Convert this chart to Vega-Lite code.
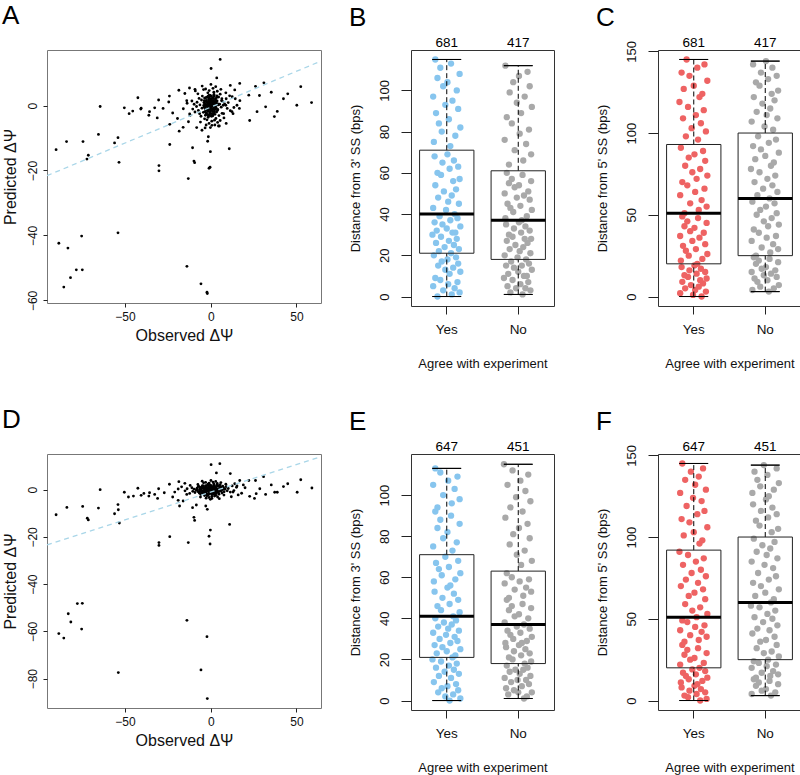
{
"$schema":"https://vega.github.io/schema/vega-lite/v6.json",
"padding":{"left":1,"top":2,"right":0,"bottom":0},
"config":{"font":"Liberation Sans","axis":{"domain":false,"grid":false,"tickColor":"#222","labelColor":"#111","titleColor":"#111","titleFontWeight":"normal"},"title":{"fontSize":26,"fontWeight":"normal","anchor":"start","frame":"bounds","baseline":"alphabetic","color":"#000"}},
"datasets":{
"A":[{"x":5.5,"y":14.2},{"x":0.2,"y":11.4},{"x":3.5,"y":8.5},{"x":-64.5,"y":-0.3},{"x":-42.5,"y":2.4},{"x":-50.4,"y":-0.7},{"x":-47.6,"y":-2.5},{"x":-40.8,"y":-1.1},{"x":-65.5,"y":-8.9},{"x":-84.1,"y":-11.1},{"x":-74.5,"y":-11.1},{"x":-90.2,"y":-13.6},{"x":-54.1,"y":-9.9},{"x":-56.1,"y":-11.5},{"x":-71.4,"y":-15.3},{"x":-72.2,"y":-16.5},{"x":-53.5,"y":-17.5},{"x":-30.2,"y":-18.5},{"x":-30.2,"y":-20.1},{"x":-23.9,"y":-12},{"x":-13.1,"y":-22.5},{"x":-10.6,"y":-13},{"x":-9.8,"y":-17.1},{"x":-9.4,"y":-17.6},{"x":-1,"y":-19.3},{"x":-0.4,"y":-19},{"x":-1.8,"y":-11},{"x":-1.4,"y":-9.6},{"x":-0.2,"y":-14.2},{"x":10.8,"y":-13.3},{"x":-54.1,"y":-39.2},{"x":-75.3,"y":-40.2},{"x":-88.6,"y":-42.4},{"x":-83.3,"y":-43.9},{"x":-78.4,"y":-50.6},{"x":-74.9,"y":-50.6},{"x":-81.8,"y":-53},{"x":-85.7,"y":-55.9},{"x":-13.9,"y":-49.5},{"x":-5.7,"y":-54.9},{"x":-2.2,"y":-57.5},{"x":-2,"y":-57.9},
{"x":16.9,"y":6.8},{"x":31,"y":7},{"x":26.1,"y":5.9},{"x":35.3,"y":4.1},{"x":44.9,"y":3.6},{"x":52.5,"y":5.8},{"x":42.4,"y":2.1},{"x":50.2,"y":0.1},{"x":58.8,"y":0.9},{"x":37.1,"y":-3.4},{"x":38.8,"y":-1.8},{"x":32,"y":-0.4},{"x":27,"y":-1.9},{"x":22.7,"y":-4.6},{"x":22.2,"y":3.2},{"x":28.4,"y":3.1},{"x":14.3,"y":2.1},{"x":11.4,"y":6.2},{"x":16.7,"y":-0.9},
{"x":-35.7,"y":-1.9},{"x":-36.1,"y":-3},{"x":-30.4,"y":1.7},{"x":-31.2,"y":-3.8},{"x":-27.8,"y":-0.9},{"x":-24.1,"y":2.9},{"x":-24.5,"y":1.1},{"x":-23.9,"y":-5.8},{"x":-18.4,"y":-7.9},{"x":-18.6,"y":4.7},{"x":-15.1,"y":3.7},{"x":-45.5,"y":-1.7},{"x":-40.6,"y":-0.8},{"x":-32.7,"y":-0.7},{"x":-22.2,"y":-2.3},{"x":-19.4,"y":-4},{"x":-16.1,"y":-6.7},{"x":-12.4,"y":5.4},{"x":-9.2,"y":5},{"x":-8.2,"y":-6.8},{"x":-5.1,"y":-7.6},{"x":-3.3,"y":-6.9},{"x":2.4,"y":-6},{"x":6.5,"y":2.1},{"x":8.8,"y":0.1},{"x":7.5,"y":-2.5},{"x":5.5,"y":-4.6},{"x":4.5,"y":-6.3},{"x":12.4,"y":-1.9},{"x":15.3,"y":0.1},
{"x":-14,"y":1.5},{"x":-12,"y":-3},{"x":13,"y":-2.5},{"x":11,"y":3},{"x":-16,"y":-1},{"x":17,"y":1.5},{"x":9,"y":-5.5},{"x":-9,"y":4.5},{"x":14,"y":4.8},{"x":-13,"y":-5},
{"x":0.5,"y":0.3},{"x":-1.2,"y":1.1},{"x":2.1,"y":-0.8},{"x":-2.5,"y":-1.4},{"x":1.4,"y":2.2},{"x":-0.7,"y":-2.3},{"x":3.2,"y":0.9},{"x":-3.4,"y":0.6},{"x":0.9,"y":-1.6},{"x":-1.8,"y":-0.4},
{"x":2.7,"y":1.8},{"x":-0.3,"y":3.1},{"x":1.1,"y":-3.2},{"x":-2.9,"y":2.4},{"x":4.1,"y":-1.2},{"x":-4.3,"y":-2.1},{"x":0.2,"y":1.7},{"x":-1.5,"y":-3.6},{"x":3.6,"y":3},{"x":-3.8,"y":1.5},
{"x":5.2,"y":0.4},{"x":-5.1,"y":-0.8},{"x":1.8,"y":4.1},{"x":-2.2,"y":-4.4},{"x":4.6,"y":2.6},{"x":-4.9,"y":2.9},{"x":2.4,"y":-2.7},{"x":-0.9,"y":4.6},{"x":0.6,"y":-4.8},{"x":6.1,"y":-0.5},
{"x":-6.3,"y":0.2},{"x":3,"y":-4},{"x":-3.1,"y":-3},{"x":5.5,"y":3.5},{"x":-5.7,"y":-3.3},{"x":7,"y":1.2},{"x":-7.2,"y":-1.5},{"x":1.3,"y":5.3},{"x":-1,"y":-5.5},{"x":6.6,"y":-2.4},
{"x":-6.8,"y":2.2},{"x":8.1,"y":0.5},{"x":-8.3,"y":-0.3},{"x":2.9,"y":5.8},{"x":-2.7,"y":-6},{"x":9,"y":2.1},{"x":-9.2,"y":-2},{"x":4,"y":-5.2},{"x":-4.2,"y":4.9},{"x":7.7,"y":-3.8},
{"x":-7.5,"y":3.6},{"x":10.2,"y":0.9},{"x":-10.5,"y":-1.1},{"x":0.1,"y":6.5},{"x":-0.2,"y":-6.8},{"x":11.4,"y":-1.6},{"x":-11,"y":1.4},{"x":5.9,"y":5},{"x":-6,"y":-5.1},{"x":8.8,"y":3.9},
{"x":0,"y":0},{"x":0.8,"y":-0.2},{"x":-0.6,"y":0.7},{"x":1.6,"y":0.5},{"x":-1.4,"y":-1},{"x":0.4,"y":-0.9},{"x":-0.4,"y":1.8},{"x":2,"y":1.2},{"x":-2.1,"y":0.1},{"x":1.2,"y":-1.9},
{"x":-1.1,"y":2.6},{"x":2.6,"y":-0.1},{"x":-2.6,"y":-2.4},{"x":0.3,"y":2.9},{"x":-0.8,"y":-3},{"x":3.4,"y":-2},{"x":-3.3,"y":-0.7},{"x":1.9,"y":3.4},{"x":-1.7,"y":3.9},{"x":4.4,"y":0.2},
{"x":-4,"y":0.9},{"x":2.2,"y":-4.5},{"x":-3.6,"y":-4.1},{"x":4.8,"y":-3.1},{"x":-5.4,"y":1.7},{"x":6.3,"y":1.5},{"x":-6.5,"y":-2.5},{"x":3.8,"y":4.4},{"x":-3,"y":5.1},{"x":7.3,"y":0.1},
{"x":0.7,"y":-6.1},{"x":-8,"y":1},{"x":9.6,"y":-0.9},{"x":-9.7,"y":0.4},{"x":12.5,"y":2.7},{"x":-12.3,"y":-2.6},{"x":5,"y":-6.3},{"x":-5,"y":6},{"x":13.5,"y":-0.6},{"x":-13.8,"y":0.7},
{"x":0.3,"y":-0.5},{"x":-0.9,"y":0.4},{"x":1.7,"y":0.9},{"x":-1.6,"y":-1.7},{"x":2.3,"y":-1.3},{"x":-2.4,"y":1.1},{"x":0.6,"y":1.3},{"x":-0.2,"y":-1.4},{"x":1,"y":2.4},{"x":-1.3,"y":2},
{"x":3.1,"y":-0.6},{"x":-3,"y":-1.2},{"x":2.8,"y":2.1},{"x":-2.8,"y":-0.1},{"x":0.1,"y":-2.5},{"x":-0.5,"y":2.2},{"x":1.5,"y":-2.6},{"x":-1.9,"y":-2.8},{"x":3.7,"y":1.4},{"x":-3.6,"y":2.3},
{"x":0.9,"y":0.4},{"x":-1,"y":-0.6},{"x":1.9,"y":-0.4},{"x":-2,"y":0.8},{"x":0.5,"y":1},{"x":-0.6,"y":-1.1},{"x":2.5,"y":0.6},{"x":-2.3,"y":-1},{"x":1.3,"y":-1.2},{"x":-1.2,"y":1.5},
{"x":3.3,"y":0.3},{"x":-3.2,"y":0.1},{"x":0.2,"y":2},{"x":-0.3,"y":-2},{"x":2,"y":2.8},{"x":-1.5,"y":2.9},{"x":1.1,"y":-2.9},{"x":-2.5,"y":-2.2},{"x":3.9,"y":-1.5},{"x":-3.9,"y":-0.5},
{"x":0.7,"y":0.1},{"x":-0.8,"y":0.1},{"x":1.4,"y":1.6},{"x":-1.7,"y":-1.3},{"x":2.2,"y":-2},{"x":-2.6,"y":1.6},{"x":0,"y":1.2},{"x":0,"y":-1},{"x":2.9,"y":-1},{"x":-3,"y":1.3},
{"x":4.2,"y":0.5},{"x":-4.1,"y":0},{"x":1.8,"y":3.1},{"x":-0.9,"y":3.2},{"x":0.4,"y":-3.3},{"x":-1.1,"y":-3.1},{"x":2.6,"y":1.2},{"x":-2.2,"y":2.6},{"x":3.5,"y":2.5},{"x":-3.4,"y":-1.9}],
"D":[{"x":0.2,"y":10.6},{"x":5.3,"y":11},{"x":3.3,"y":7.1},{"x":11.4,"y":6.8},{"x":-64.5,"y":0},{"x":-90.2,"y":-10.6},{"x":-83.9,"y":-7.5},{"x":-74.7,"y":-7.1},{"x":-65.5,"y":-7.8},{"x":-72,"y":-12.1},{"x":-71.4,"y":-12.8},{"x":-56.1,"y":-10.2},{"x":-54.1,"y":-6.3},{"x":-53.9,"y":-8.5},{"x":-53.3,"y":-14.1},{"x":-50.4,"y":-1.1},{"x":-48,"y":-3.1},{"x":-42.5,"y":0.6},{"x":-40.6,"y":-2.4},{"x":-45.1,"y":-2.7},{"x":-36.1,"y":-2.7},{"x":-30.4,"y":0.4},{"x":-31,"y":-3.7},{"x":-30.2,"y":-22.4},{"x":-30.2,"y":-23.6},{"x":-23.9,"y":-19.9},{"x":-13.1,"y":-22.4},{"x":-9.8,"y":-11.7},{"x":-9.4,"y":-13},{"x":-0.2,"y":-17.1},{"x":-1,"y":-19.7},{"x":-0.4,"y":-23},{"x":11,"y":-14.7},{"x":-77.8,"y":-48.2},{"x":-74.9,"y":-48.1},{"x":-83.1,"y":-52.5},{"x":-81.6,"y":-56},{"x":-75.3,"y":-59},{"x":-88.6,"y":-60.9},{"x":-85.7,"y":-62.8},{"x":-13.9,"y":-55.3},{"x":-2.2,"y":-62.2},{"x":-53.9,"y":-77.4},{"x":-5.7,"y":-76.3},{"x":-2,"y":-88.4},
{"x":30.8,"y":5.5},{"x":26.1,"y":3.9},{"x":35.3,"y":2},{"x":44.9,"y":2.5},{"x":52.5,"y":4.2},{"x":42.4,"y":1.3},{"x":50.4,"y":-1.1},{"x":59,"y":0.7},{"x":37.3,"y":-1.1},{"x":38.8,"y":-1.1},{"x":32,"y":-2},{"x":25.5,"y":-3.7},{"x":22.7,"y":-2.8},{"x":22.2,"y":3.9},{"x":28.6,"y":0.4},{"x":16.9,"y":3.9},{"x":26.5,"y":-1.7},{"x":15.3,"y":1.6},
{"x":-35.7,"y":-1.3},{"x":-24.1,"y":2.3},{"x":-27.1,"y":-1.3},{"x":-18.6,"y":3.4},{"x":-15.1,"y":2.7},{"x":-18.2,"y":-6.9},{"x":-22.2,"y":-3.1},{"x":-19,"y":-4.5},{"x":-16.1,"y":-4.8},{"x":-8.4,"y":-6.5},{"x":-10.6,"y":-7.6},{"x":-2,"y":-8.3},{"x":-2.9,"y":-6.9},{"x":-32.7,"y":-2},{"x":-39,"y":-1.6},
{"x":15,"y":1},{"x":18,"y":-1.5},{"x":-15,"y":-0.5},{"x":-17,"y":1.2},{"x":14,"y":2.5},{"x":-14,"y":-2},{"x":20,"y":0.8},{"x":16,"y":-2.2},{"x":-19,"y":0.3},{"x":12,"y":-3},{"x":19,"y":2},{"x":-21,"y":-1},{"x":13,"y":-1},{"x":-12,"y":1.8},
{"x":0.5,"y":0.2},{"x":-1.2,"y":0.7},{"x":2.1,"y":-0.5},{"x":-2.5,"y":-0.8},{"x":1.4,"y":1.3},{"x":-0.7,"y":-1.4},{"x":3.2,"y":0.5},{"x":-3.4,"y":0.4},{"x":0.9,"y":-1},{"x":-1.8,"y":-0.2},
{"x":2.7,"y":1.1},{"x":-0.3,"y":1.9},{"x":1.1,"y":-1.9},{"x":-2.9,"y":1.4},{"x":4.1,"y":-0.7},{"x":-4.3,"y":-1.3},{"x":0.2,"y":1},{"x":-1.5,"y":-2.2},{"x":3.6,"y":1.8},{"x":-3.8,"y":0.9},
{"x":5.2,"y":0.2},{"x":-5.1,"y":-0.5},{"x":1.8,"y":2.5},{"x":-2.2,"y":-2.6},{"x":4.6,"y":1.6},{"x":-4.9,"y":1.7},{"x":2.4,"y":-1.6},{"x":-0.9,"y":2.8},{"x":0.6,"y":-2.9},{"x":6.1,"y":-0.3},
{"x":-6.3,"y":0.1},{"x":3,"y":-2.4},{"x":-3.1,"y":-1.8},{"x":5.5,"y":2.1},{"x":-5.7,"y":-2},{"x":7,"y":0.7},{"x":-7.2,"y":-0.9},{"x":1.3,"y":3.2},{"x":-1,"y":-3.3},{"x":6.6,"y":-1.4},
{"x":-6.8,"y":1.3},{"x":8.1,"y":0.3},{"x":-8.3,"y":-0.2},{"x":2.9,"y":3.5},{"x":-2.7,"y":-3.6},{"x":9,"y":1.3},{"x":-9.2,"y":-1.2},{"x":4,"y":-3.1},{"x":-4.2,"y":2.9},{"x":7.7,"y":-2.3},
{"x":-7.5,"y":2.2},{"x":10.2,"y":0.5},{"x":-10.5,"y":-0.7},{"x":0.1,"y":3.9},{"x":-0.2,"y":-4.1},{"x":11.4,"y":-1},{"x":-11,"y":0.8},{"x":5.9,"y":3},{"x":-6,"y":-3.1},{"x":8.8,"y":2.3},
{"x":0,"y":0},{"x":0.8,"y":-0.1},{"x":-0.6,"y":0.4},{"x":1.6,"y":0.3},{"x":-1.4,"y":-0.6},{"x":0.4,"y":-0.5},{"x":-0.4,"y":1.1},{"x":2,"y":0.7},{"x":-2.1,"y":0.1},{"x":1.2,"y":-1.1},
{"x":-1.1,"y":1.6},{"x":2.6,"y":-0.1},{"x":-2.6,"y":-1.4},{"x":0.3,"y":1.7},{"x":-0.8,"y":-1.8},{"x":3.4,"y":-1.2},{"x":-3.3,"y":-0.4},{"x":1.9,"y":2},{"x":-1.7,"y":2.3},{"x":4.4,"y":0.1},
{"x":-4,"y":0.5},{"x":2.2,"y":-2.7},{"x":-3.6,"y":-2.5},{"x":4.8,"y":-1.9},{"x":-5.4,"y":1},{"x":6.3,"y":0.9},{"x":-6.5,"y":-1.5},{"x":3.8,"y":2.6},{"x":-3,"y":3.1},{"x":7.3,"y":0.1},
{"x":0.7,"y":-3.7},{"x":-8,"y":0.6},{"x":9.6,"y":-0.5},{"x":-9.7,"y":0.2},{"x":12.5,"y":1.6},{"x":-12.3,"y":-1.6},{"x":5,"y":-3.8},{"x":-5,"y":3.6},{"x":13.5,"y":-0.4},{"x":-13.8,"y":0.4},
{"x":0.6,"y":-0.3},{"x":-1.8,"y":0.2},{"x":3.4,"y":0.5},{"x":-3.2,"y":-1},{"x":4.6,"y":-0.8},{"x":-4.8,"y":0.7},{"x":1.2,"y":0.8},{"x":-0.4,"y":-0.8},{"x":2,"y":1.4},{"x":-2.6,"y":1.2},
{"x":6.2,"y":-0.4},{"x":-6,"y":-0.7},{"x":5.6,"y":1.3},{"x":-5.6,"y":-0.1},{"x":0.2,"y":-1.5},{"x":-1,"y":1.3},{"x":3,"y":-1.6},{"x":-3.8,"y":-1.7},{"x":7.4,"y":0.8},{"x":-7.2,"y":1.4},
{"x":1.8,"y":0.2},{"x":-2,"y":-0.4},{"x":3.8,"y":-0.2},{"x":-4,"y":0.5},{"x":1,"y":0.6},{"x":-1.2,"y":-0.7},{"x":5,"y":0.4},{"x":-4.6,"y":-0.6},{"x":2.6,"y":-0.7},{"x":-2.4,"y":0.9},
{"x":6.6,"y":0.2},{"x":-6.4,"y":0.1},{"x":0.4,"y":1.2},{"x":-0.6,"y":-1.2},{"x":4,"y":1.7},{"x":-3,"y":1.7},{"x":2.2,"y":-1.7},{"x":-5,"y":-1.3},{"x":7.8,"y":-0.9},{"x":-7.8,"y":-0.3},
{"x":1.4,"y":0.1},{"x":-1.6,"y":0.1},{"x":2.8,"y":1},{"x":-3.4,"y":-0.8},{"x":4.4,"y":-1.2},{"x":-5.2,"y":1},{"x":0,"y":0.7},{"x":0,"y":-0.6},{"x":5.8,"y":-0.6},{"x":-6,"y":0.8},
{"x":8.4,"y":0.3},{"x":-8.2,"y":0},{"x":3.6,"y":1.9},{"x":-1.8,"y":1.9},{"x":0.8,"y":-2},{"x":-2.2,"y":-1.9},{"x":5.2,"y":0.7},{"x":-4.4,"y":1.6},{"x":7,"y":1.5},{"x":-6.8,"y":-1.1}],
"Aline":[{"x":-95.5,"y":-21.6},{"x":64.3,"y":13.7}],
"Dline":[{"x":-95.5,"y":-23.4},{"x":64.3,"y":14.0}],
"Bbox":[{"g":"Yes","lo":0,"q1":21,"med":40,"q3":71,"hi":115,"n":681},{"g":"No","lo":1,"q1":18,"med":37,"q3":61,"hi":112,"n":417}],
"Cbox":[{"g":"Yes","lo":0,"q1":20,"med":51,"q3":93,"hi":145,"n":681},{"g":"No","lo":3,"q1":25,"med":60,"q3":100,"hi":144,"n":417}],
"Ebox":[{"g":"Yes","lo":0,"q1":21,"med":41,"q3":71,"hi":113,"n":647},{"g":"No","lo":1,"q1":18,"med":37,"q3":63,"hi":115,"n":451}],
"Fbox":[{"g":"Yes","lo":0,"q1":20,"med":51,"q3":92,"hi":145,"n":647},{"g":"No","lo":3,"q1":25,"med":60,"q3":100,"hi":144,"n":451}],
"BY":[{"x":0.87,"y":0},{"x":1.07,"y":1},{"x":1.18,"y":2},{"x":0.95,"y":3},{"x":1.11,"y":4},{"x":0.81,"y":5},{"x":1.02,"y":6},{"x":1.15,"y":7},{"x":0.91,"y":8},{"x":0.84,"y":9},{"x":1.04,"y":11},{"x":1.19,"y":12},{"x":0.98,"y":13},{"x":1.09,"y":14},{"x":0.88,"y":15},{"x":1.16,"y":16},{"x":0.93,"y":17},{"x":1.01,"y":18},{"x":1.13,"y":19},{"x":0.82,"y":20},{"x":1.06,"y":21},{"x":0.89,"y":22},{"x":1.17,"y":23},{"x":0.97,"y":24},{"x":1.1,"y":25},{"x":0.85,"y":26},{"x":1.03,"y":27},{"x":1.14,"y":28},{"x":0.92,"y":29},{"x":0.8,"y":30},{"x":1.08,"y":31},{"x":1.12,"y":31},{"x":0.86,"y":32},{"x":1,"y":33},{"x":1.19,"y":34},{"x":0.94,"y":35},{"x":0.83,"y":36},{"x":1.05,"y":37},{"x":1.15,"y":38},{"x":0.9,"y":39},{"x":1.11,"y":40},{"x":0.99,"y":42},{"x":0.81,"y":43},{"x":1.17,"y":45},{"x":1.02,"y":46},{"x":0.88,"y":48},{"x":1.07,"y":49},{"x":0.96,"y":51},{"x":1.13,"y":52},{"x":0.84,"y":54},{"x":1.09,"y":56},{"x":1.18,"y":57},{"x":0.92,"y":59},{"x":0.87,"y":60},{"x":1.04,"y":62},{"x":1.16,"y":63},{"x":0.94,"y":65},{"x":1.1,"y":66},{"x":0.83,"y":68},{"x":1.01,"y":69},{"x":1.05,"y":73},{"x":0.82,"y":75},{"x":1.12,"y":78},{"x":0.93,"y":80},{"x":1.19,"y":82},{"x":0.89,"y":84},{"x":1.03,"y":86},{"x":0.85,"y":89},{"x":1.16,"y":91},{"x":0.98,"y":93},{"x":1.08,"y":95},{"x":0.81,"y":97},{"x":1.14,"y":100},{"x":0.95,"y":102},{"x":1.01,"y":104},{"x":0.87,"y":106},{"x":1.18,"y":108},{"x":0.91,"y":111},{"x":1.06,"y":113},{"x":0.84,"y":115}],
"BN":[{"x":2.06,"y":1},{"x":1.89,"y":2},{"x":2.17,"y":3},{"x":1.97,"y":4},{"x":2.1,"y":4},{"x":1.85,"y":5},{"x":2.03,"y":6},{"x":2.14,"y":7},{"x":1.92,"y":8},{"x":1.8,"y":9},{"x":2.08,"y":10},{"x":2.12,"y":10},{"x":1.86,"y":11},{"x":2,"y":12},{"x":2.19,"y":13},{"x":1.94,"y":14},{"x":1.83,"y":15},{"x":2.05,"y":15},{"x":2.15,"y":16},{"x":1.9,"y":17},{"x":2.11,"y":18},{"x":1.99,"y":19},{"x":1.81,"y":20},{"x":2.17,"y":21},{"x":2.02,"y":22},{"x":1.88,"y":23},{"x":2.07,"y":24},{"x":1.96,"y":25},{"x":2.13,"y":26},{"x":1.84,"y":27},{"x":2.09,"y":28},{"x":2.18,"y":28},{"x":1.92,"y":29},{"x":1.87,"y":30},{"x":2.04,"y":31},{"x":2.16,"y":32},{"x":1.94,"y":33},{"x":2.1,"y":34},{"x":1.83,"y":35},{"x":2.01,"y":36},{"x":2.05,"y":37},{"x":1.82,"y":38},{"x":2.12,"y":39},{"x":1.93,"y":41},{"x":2.19,"y":42},{"x":1.89,"y":43},{"x":2.03,"y":44},{"x":1.85,"y":45},{"x":2.16,"y":47},{"x":1.98,"y":48},{"x":2.08,"y":49},{"x":1.81,"y":50},{"x":2.14,"y":51},{"x":1.95,"y":53},{"x":2.01,"y":54},{"x":1.87,"y":55},{"x":2.18,"y":56},{"x":1.91,"y":57},{"x":2.06,"y":59},{"x":1.84,"y":60},{"x":1.87,"y":64},{"x":2.07,"y":66},{"x":2.18,"y":69},{"x":1.95,"y":71},{"x":2.11,"y":74},{"x":1.81,"y":76},{"x":2.02,"y":79},{"x":2.15,"y":81},{"x":1.91,"y":84},{"x":1.84,"y":87},{"x":2.04,"y":89},{"x":2.19,"y":92},{"x":1.98,"y":94},{"x":2.09,"y":97},{"x":1.88,"y":99},{"x":2.16,"y":102},{"x":1.93,"y":104},{"x":2.01,"y":107},{"x":2.13,"y":109},{"x":1.82,"y":112}],
"CY":[{"x":1.11,"y":0},{"x":0.99,"y":1},{"x":0.81,"y":2},{"x":1.17,"y":3},{"x":1.02,"y":4},{"x":0.88,"y":5},{"x":1.07,"y":6},{"x":0.96,"y":7},{"x":1.13,"y":8},{"x":0.84,"y":9},{"x":1.09,"y":10},{"x":1.18,"y":11},{"x":0.92,"y":12},{"x":0.87,"y":13},{"x":1.04,"y":14},{"x":1.16,"y":15},{"x":0.94,"y":16},{"x":1.1,"y":17},{"x":0.83,"y":18},{"x":1.01,"y":19},{"x":1.05,"y":20},{"x":0.82,"y":22},{"x":1.12,"y":23},{"x":0.93,"y":25},{"x":1.19,"y":26},{"x":0.89,"y":28},{"x":1.03,"y":29},{"x":0.85,"y":31},{"x":1.16,"y":32},{"x":0.98,"y":34},{"x":1.08,"y":36},{"x":0.81,"y":37},{"x":1.14,"y":39},{"x":0.95,"y":40},{"x":1.01,"y":42},{"x":0.87,"y":43},{"x":1.18,"y":45},{"x":0.91,"y":46},{"x":1.06,"y":48},{"x":0.84,"y":49},{"x":0.87,"y":51},{"x":1.07,"y":53},{"x":1.18,"y":55},{"x":0.95,"y":57},{"x":1.11,"y":59},{"x":0.81,"y":62},{"x":1.02,"y":64},{"x":1.15,"y":66},{"x":0.91,"y":68},{"x":0.84,"y":70},{"x":1.04,"y":72},{"x":1.19,"y":74},{"x":0.98,"y":76},{"x":1.09,"y":78},{"x":0.88,"y":80},{"x":1.16,"y":83},{"x":0.93,"y":85},{"x":1.01,"y":87},{"x":1.13,"y":89},{"x":0.82,"y":91},{"x":1.06,"y":96},{"x":0.89,"y":98},{"x":1.17,"y":101},{"x":0.97,"y":103},{"x":1.1,"y":106},{"x":0.85,"y":109},{"x":1.03,"y":111},{"x":1.14,"y":114},{"x":0.92,"y":116},{"x":0.8,"y":119},{"x":1.08,"y":122},{"x":1.12,"y":124},{"x":0.86,"y":127},{"x":1,"y":129},{"x":1.19,"y":132},{"x":0.94,"y":135},{"x":0.83,"y":137},{"x":1.05,"y":140},{"x":1.15,"y":142},{"x":0.9,"y":145}],
"CN":[{"x":2.05,"y":3},{"x":1.82,"y":4},{"x":2.12,"y":5},{"x":1.93,"y":6},{"x":2.19,"y":7},{"x":1.89,"y":9},{"x":2.03,"y":10},{"x":1.85,"y":11},{"x":2.16,"y":12},{"x":1.98,"y":13},{"x":2.08,"y":14},{"x":1.81,"y":15},{"x":2.14,"y":16},{"x":1.95,"y":17},{"x":2.01,"y":18},{"x":1.87,"y":20},{"x":2.18,"y":21},{"x":1.91,"y":22},{"x":2.06,"y":23},{"x":1.84,"y":24},{"x":1.87,"y":25},{"x":2.07,"y":27},{"x":2.18,"y":29},{"x":1.95,"y":30},{"x":2.11,"y":32},{"x":1.81,"y":34},{"x":2.02,"y":36},{"x":2.15,"y":37},{"x":1.91,"y":39},{"x":1.84,"y":41},{"x":2.04,"y":43},{"x":2.19,"y":44},{"x":1.98,"y":46},{"x":2.09,"y":48},{"x":1.88,"y":50},{"x":2.16,"y":51},{"x":1.93,"y":53},{"x":2.01,"y":55},{"x":2.13,"y":57},{"x":1.82,"y":58},{"x":2.06,"y":60},{"x":1.89,"y":62},{"x":2.17,"y":64},{"x":1.97,"y":66},{"x":2.1,"y":68},{"x":1.85,"y":70},{"x":2.03,"y":72},{"x":2.14,"y":74},{"x":1.92,"y":76},{"x":1.8,"y":78},{"x":2.08,"y":80},{"x":2.12,"y":82},{"x":1.86,"y":84},{"x":2,"y":86},{"x":2.19,"y":88},{"x":1.94,"y":90},{"x":1.83,"y":92},{"x":2.05,"y":94},{"x":2.15,"y":96},{"x":1.9,"y":98},{"x":2.11,"y":102},{"x":1.99,"y":104},{"x":1.81,"y":107},{"x":2.17,"y":109},{"x":2.02,"y":111},{"x":1.88,"y":113},{"x":2.07,"y":115},{"x":1.96,"y":118},{"x":2.13,"y":120},{"x":1.84,"y":122},{"x":2.09,"y":124},{"x":2.18,"y":126},{"x":1.92,"y":129},{"x":1.87,"y":131},{"x":2.04,"y":133},{"x":2.16,"y":135},{"x":1.94,"y":137},{"x":2.1,"y":140},{"x":1.83,"y":142},{"x":2.01,"y":144}],
"EY":[{"x":1.04,"y":0},{"x":1.19,"y":1},{"x":0.98,"y":2},{"x":1.09,"y":3},{"x":0.88,"y":4},{"x":1.16,"y":5},{"x":0.93,"y":6},{"x":1.01,"y":7},{"x":1.13,"y":8},{"x":0.82,"y":9},{"x":1.06,"y":11},{"x":0.89,"y":12},{"x":1.17,"y":13},{"x":0.97,"y":14},{"x":1.1,"y":15},{"x":0.85,"y":16},{"x":1.03,"y":17},{"x":1.14,"y":18},{"x":0.92,"y":19},{"x":0.8,"y":20},{"x":1.08,"y":21},{"x":1.12,"y":22},{"x":0.86,"y":23},{"x":1,"y":24},{"x":1.19,"y":25},{"x":0.94,"y":26},{"x":0.83,"y":27},{"x":1.05,"y":28},{"x":1.15,"y":29},{"x":0.9,"y":30},{"x":1.11,"y":31},{"x":0.99,"y":32},{"x":0.81,"y":33},{"x":1.17,"y":34},{"x":1.02,"y":35},{"x":0.88,"y":36},{"x":1.07,"y":37},{"x":0.96,"y":38},{"x":1.13,"y":39},{"x":0.84,"y":40},{"x":1.09,"y":41},{"x":1.18,"y":43},{"x":0.92,"y":44},{"x":0.87,"y":46},{"x":1.04,"y":47},{"x":1.16,"y":49},{"x":0.94,"y":50},{"x":1.1,"y":52},{"x":0.83,"y":53},{"x":1.01,"y":55},{"x":1.05,"y":56},{"x":0.82,"y":58},{"x":1.12,"y":59},{"x":0.93,"y":61},{"x":1.19,"y":62},{"x":0.89,"y":64},{"x":1.03,"y":65},{"x":0.85,"y":67},{"x":1.16,"y":68},{"x":0.98,"y":70},{"x":1.08,"y":73},{"x":0.81,"y":75},{"x":1.14,"y":77},{"x":0.95,"y":79},{"x":1.01,"y":82},{"x":0.87,"y":84},{"x":1.18,"y":86},{"x":0.91,"y":88},{"x":1.06,"y":90},{"x":0.84,"y":92},{"x":0.87,"y":94},{"x":1.07,"y":96},{"x":1.18,"y":98},{"x":0.95,"y":100},{"x":1.11,"y":103},{"x":0.81,"y":105},{"x":1.02,"y":107},{"x":1.15,"y":109},{"x":0.91,"y":111},{"x":0.84,"y":113}],
"EN":[{"x":2.08,"y":1},{"x":2.12,"y":2},{"x":1.86,"y":3},{"x":2,"y":4},{"x":2.19,"y":4},{"x":1.94,"y":5},{"x":1.83,"y":6},{"x":2.05,"y":7},{"x":2.15,"y":8},{"x":1.9,"y":9},{"x":2.11,"y":10},{"x":1.99,"y":10},{"x":1.81,"y":11},{"x":2.17,"y":12},{"x":2.02,"y":13},{"x":1.88,"y":14},{"x":2.07,"y":15},{"x":1.96,"y":15},{"x":2.13,"y":16},{"x":1.84,"y":17},{"x":2.09,"y":18},{"x":2.18,"y":19},{"x":1.92,"y":20},{"x":1.87,"y":21},{"x":2.04,"y":22},{"x":2.16,"y":23},{"x":1.94,"y":24},{"x":2.1,"y":25},{"x":1.83,"y":26},{"x":2.01,"y":27},{"x":2.05,"y":28},{"x":1.82,"y":28},{"x":2.12,"y":29},{"x":1.93,"y":30},{"x":2.19,"y":31},{"x":1.89,"y":32},{"x":2.03,"y":33},{"x":1.85,"y":34},{"x":2.16,"y":35},{"x":1.98,"y":36},{"x":2.08,"y":37},{"x":1.81,"y":38},{"x":2.14,"y":40},{"x":1.95,"y":41},{"x":2.01,"y":42},{"x":1.87,"y":44},{"x":2.18,"y":45},{"x":1.91,"y":46},{"x":2.06,"y":47},{"x":1.84,"y":49},{"x":1.87,"y":50},{"x":2.07,"y":51},{"x":2.18,"y":53},{"x":1.95,"y":54},{"x":2.11,"y":55},{"x":1.81,"y":57},{"x":2.02,"y":58},{"x":2.15,"y":59},{"x":1.91,"y":60},{"x":1.84,"y":62},{"x":2.04,"y":66},{"x":2.19,"y":68},{"x":1.98,"y":71},{"x":2.09,"y":73},{"x":1.88,"y":76},{"x":2.16,"y":79},{"x":1.93,"y":81},{"x":2.01,"y":84},{"x":2.13,"y":86},{"x":1.82,"y":89},{"x":2.06,"y":92},{"x":1.89,"y":94},{"x":2.17,"y":97},{"x":1.97,"y":99},{"x":2.1,"y":102},{"x":1.85,"y":105},{"x":2.03,"y":107},{"x":2.14,"y":110},{"x":1.92,"y":112},{"x":1.8,"y":115}],
"FY":[{"x":1.09,"y":0},{"x":1.18,"y":1},{"x":0.92,"y":2},{"x":0.87,"y":3},{"x":1.04,"y":4},{"x":1.16,"y":5},{"x":0.94,"y":6},{"x":1.1,"y":7},{"x":0.83,"y":8},{"x":1.01,"y":9},{"x":1.05,"y":10},{"x":0.82,"y":11},{"x":1.12,"y":12},{"x":0.93,"y":13},{"x":1.19,"y":14},{"x":0.89,"y":15},{"x":1.03,"y":16},{"x":0.85,"y":17},{"x":1.16,"y":18},{"x":0.98,"y":19},{"x":1.08,"y":20},{"x":0.81,"y":22},{"x":1.14,"y":23},{"x":0.95,"y":25},{"x":1.01,"y":26},{"x":0.87,"y":28},{"x":1.18,"y":29},{"x":0.91,"y":31},{"x":1.06,"y":32},{"x":0.84,"y":34},{"x":0.87,"y":36},{"x":1.07,"y":37},{"x":1.18,"y":39},{"x":0.95,"y":40},{"x":1.11,"y":42},{"x":0.81,"y":43},{"x":1.02,"y":45},{"x":1.15,"y":46},{"x":0.91,"y":48},{"x":0.84,"y":49},{"x":1.04,"y":51},{"x":1.19,"y":53},{"x":0.98,"y":55},{"x":1.09,"y":57},{"x":0.88,"y":59},{"x":1.16,"y":62},{"x":0.93,"y":64},{"x":1.01,"y":66},{"x":1.13,"y":68},{"x":0.82,"y":70},{"x":1.06,"y":72},{"x":0.89,"y":74},{"x":1.17,"y":76},{"x":0.97,"y":78},{"x":1.1,"y":80},{"x":0.85,"y":83},{"x":1.03,"y":85},{"x":1.14,"y":87},{"x":0.92,"y":89},{"x":0.8,"y":91},{"x":1.08,"y":96},{"x":1.12,"y":98},{"x":0.86,"y":101},{"x":1,"y":103},{"x":1.19,"y":106},{"x":0.94,"y":109},{"x":0.83,"y":111},{"x":1.05,"y":114},{"x":1.15,"y":116},{"x":0.9,"y":119},{"x":1.11,"y":122},{"x":0.99,"y":124},{"x":0.81,"y":127},{"x":1.17,"y":129},{"x":1.02,"y":132},{"x":0.88,"y":135},{"x":1.07,"y":137},{"x":0.96,"y":140},{"x":1.13,"y":142},{"x":0.84,"y":145}],
"FN":[{"x":2.08,"y":3},{"x":1.81,"y":4},{"x":2.14,"y":5},{"x":1.95,"y":6},{"x":2.01,"y":7},{"x":1.87,"y":9},{"x":2.18,"y":10},{"x":1.91,"y":11},{"x":2.06,"y":12},{"x":1.84,"y":13},{"x":1.87,"y":14},{"x":2.07,"y":15},{"x":2.18,"y":16},{"x":1.95,"y":17},{"x":2.11,"y":18},{"x":1.81,"y":20},{"x":2.02,"y":21},{"x":2.15,"y":22},{"x":1.91,"y":23},{"x":1.84,"y":24},{"x":2.04,"y":25},{"x":2.19,"y":27},{"x":1.98,"y":29},{"x":2.09,"y":30},{"x":1.88,"y":32},{"x":2.16,"y":34},{"x":1.93,"y":36},{"x":2.01,"y":37},{"x":2.13,"y":39},{"x":1.82,"y":41},{"x":2.06,"y":43},{"x":1.89,"y":44},{"x":2.17,"y":46},{"x":1.97,"y":48},{"x":2.1,"y":50},{"x":1.85,"y":51},{"x":2.03,"y":53},{"x":2.14,"y":55},{"x":1.92,"y":57},{"x":1.8,"y":58},{"x":2.08,"y":60},{"x":2.12,"y":62},{"x":1.86,"y":64},{"x":2,"y":66},{"x":2.19,"y":68},{"x":1.94,"y":70},{"x":1.83,"y":72},{"x":2.05,"y":74},{"x":2.15,"y":76},{"x":1.9,"y":78},{"x":2.11,"y":81},{"x":1.99,"y":83},{"x":1.81,"y":85},{"x":2.17,"y":87},{"x":2.02,"y":89},{"x":1.88,"y":91},{"x":2.07,"y":93},{"x":1.96,"y":95},{"x":2.13,"y":97},{"x":1.84,"y":99},{"x":2.09,"y":103},{"x":2.18,"y":105},{"x":1.92,"y":107},{"x":1.87,"y":110},{"x":2.04,"y":112},{"x":2.16,"y":114},{"x":1.94,"y":116},{"x":2.1,"y":118},{"x":1.83,"y":120},{"x":2.01,"y":123},{"x":2.05,"y":125},{"x":1.82,"y":127},{"x":2.12,"y":129},{"x":1.93,"y":131},{"x":2.19,"y":133},{"x":1.89,"y":135},{"x":2.03,"y":138},{"x":1.85,"y":140},{"x":2.16,"y":142},{"x":1.98,"y":144}]
},
"vconcat":[
{"hconcat":[
 {"title":{"text":"A","offset":21},"width":274,"height":253,"view":{"stroke":"#777"},
  "layer":[
   {"data":{"name":"A"},"mark":{"type":"circle","size":8,"color":"#000","opacity":1},
    "encoding":{"x":{"field":"x","type":"quantitative","title":"Observed ΔΨ","scale":{"domain":[-95.5,64.3],"nice":false,"zero":false},"axis":{"values":[-50,0,50],"labelFontSize":12,"tickSize":4,"labelPadding":4,"titleFontSize":16,"titlePadding":5}},
     "y":{"field":"y","type":"quantitative","title":"Predicted ΔΨ","scale":{"domain":[-60.8,17.1],"nice":false,"zero":false},"axis":{"values":[-60,-40,-20,0],"labelAngle":-90,"labelFontSize":12,"tickSize":4,"labelPadding":4,"titleFontSize":16,"titlePadding":8}}}},
   {"data":{"name":"Aline"},"mark":{"type":"line","color":"#A9D6E8","strokeDash":[5,4],"strokeWidth":1.3},
    "encoding":{"x":{"field":"x","type":"quantitative","title":"Observed ΔΨ"},"y":{"field":"y","type":"quantitative","title":"Predicted ΔΨ"}}}
  ]},
 {"hconcat":[
  {"title":{"text":"B","offset":5},"width":143,"height":256,"view":{"stroke":"#333"},"resolve":{"scale":{"x":"independent"}},
   "layer":[
    {"layer":[
     {"data":{"name":"BY"},"mark":{"type":"circle","size":40,"color":"#87C5EE","opacity":1},
      "encoding":{"x":{"field":"x","type":"quantitative","scale":{"domain":[0.5,2.5],"nice":false,"zero":false},"axis":null},
       "y":{"field":"y","type":"quantitative","title":"Distance from 3' SS (bps)","scale":{"domain":[-4.6,119.6],"nice":false,"zero":false},"axis":{"values":[0,20,40,60,80,100],"labelAngle":-90,"labelFontSize":13,"tickSize":10,"labelPadding":10,"titleFontSize":13,"titlePadding":16}}}},
     {"data":{"name":"BN"},"mark":{"type":"circle","size":40,"color":"#A9A9A9","opacity":1},
      "encoding":{"x":{"field":"x","type":"quantitative","scale":{"domain":[0.5,2.5],"nice":false,"zero":false},"axis":null},
       "y":{"field":"y","type":"quantitative","title":"Distance from 3' SS (bps)"}}}
    ]},
    {"data":{"name":"Bbox"},
     "encoding":{"x":{"field":"g","type":"nominal","sort":["Yes","No"],"scale":{"domain":["Yes","No"],"paddingInner":0.24,"paddingOuter":0.12},"axis":{"title":"Agree with experiment","labelAngle":0,"tickSize":8,"labelPadding":8,"labelFontSize":13.5,"titleFontSize":13,"titlePadding":22}}},
     "layer":[
      {"mark":{"type":"rule","color":"#000","strokeDash":[5,3]},"encoding":{"y":{"field":"q3","type":"quantitative","title":"Distance from 3' SS (bps)"},"y2":{"field":"hi"}}},
      {"mark":{"type":"rule","color":"#000","strokeDash":[5,3]},"encoding":{"y":{"field":"lo","type":"quantitative","title":"Distance from 3' SS (bps)"},"y2":{"field":"q1"}}},
      {"mark":{"type":"bar","width":{"band":0.53},"fillOpacity":0,"stroke":"#000","strokeWidth":1},"encoding":{"y":{"field":"hi","type":"quantitative","title":"Distance from 3' SS (bps)"},"y2":{"field":"hi"}}},
      {"mark":{"type":"bar","width":{"band":0.53},"fillOpacity":0,"stroke":"#000","strokeWidth":1},"encoding":{"y":{"field":"lo","type":"quantitative","title":"Distance from 3' SS (bps)"},"y2":{"field":"lo"}}},
      {"mark":{"type":"bar","fillOpacity":0,"stroke":"#222","strokeWidth":1},"encoding":{"y":{"field":"q1","type":"quantitative","title":"Distance from 3' SS (bps)"},"y2":{"field":"q3"}}},
      {"mark":{"type":"bar","fillOpacity":0,"stroke":"#000","strokeWidth":3},"encoding":{"y":{"field":"med","type":"quantitative","title":"Distance from 3' SS (bps)"},"y2":{"field":"med"}}},
      {"mark":{"type":"text","fontSize":13.5,"color":"#000","baseline":"alphabetic"},"encoding":{"text":{"field":"n"},"y":{"datum":121}}}
     ]}
   ]},
  {"title":{"text":"C","offset":5},"width":143,"height":256,"view":{"stroke":"#333"},"resolve":{"scale":{"x":"independent"}},
   "layer":[
    {"layer":[
     {"data":{"name":"CY"},"mark":{"type":"circle","size":40,"color":"#EE6363","opacity":1},
      "encoding":{"x":{"field":"x","type":"quantitative","scale":{"domain":[0.5,2.5],"nice":false,"zero":false},"axis":null},
       "y":{"field":"y","type":"quantitative","title":"Distance from 5' SS (bps)","scale":{"domain":[-5.8,150.8],"nice":false,"zero":false},"axis":{"values":[0,50,100,150],"labelAngle":-90,"labelFontSize":13,"tickSize":10,"labelPadding":10,"titleFontSize":13,"titlePadding":16}}}},
     {"data":{"name":"CN"},"mark":{"type":"circle","size":40,"color":"#A9A9A9","opacity":1},
      "encoding":{"x":{"field":"x","type":"quantitative","scale":{"domain":[0.5,2.5],"nice":false,"zero":false},"axis":null},
       "y":{"field":"y","type":"quantitative","title":"Distance from 5' SS (bps)"}}}
    ]},
    {"data":{"name":"Cbox"},
     "encoding":{"x":{"field":"g","type":"nominal","sort":["Yes","No"],"scale":{"domain":["Yes","No"],"paddingInner":0.24,"paddingOuter":0.12},"axis":{"title":"Agree with experiment","labelAngle":0,"tickSize":8,"labelPadding":8,"labelFontSize":13.5,"titleFontSize":13,"titlePadding":22}}},
     "layer":[
      {"mark":{"type":"rule","color":"#000","strokeDash":[5,3]},"encoding":{"y":{"field":"q3","type":"quantitative","title":"Distance from 5' SS (bps)"},"y2":{"field":"hi"}}},
      {"mark":{"type":"rule","color":"#000","strokeDash":[5,3]},"encoding":{"y":{"field":"lo","type":"quantitative","title":"Distance from 5' SS (bps)"},"y2":{"field":"q1"}}},
      {"mark":{"type":"bar","width":{"band":0.53},"fillOpacity":0,"stroke":"#000","strokeWidth":1},"encoding":{"y":{"field":"hi","type":"quantitative","title":"Distance from 5' SS (bps)"},"y2":{"field":"hi"}}},
      {"mark":{"type":"bar","width":{"band":0.53},"fillOpacity":0,"stroke":"#000","strokeWidth":1},"encoding":{"y":{"field":"lo","type":"quantitative","title":"Distance from 5' SS (bps)"},"y2":{"field":"lo"}}},
      {"mark":{"type":"bar","fillOpacity":0,"stroke":"#222","strokeWidth":1},"encoding":{"y":{"field":"q1","type":"quantitative","title":"Distance from 5' SS (bps)"},"y2":{"field":"q3"}}},
      {"mark":{"type":"bar","fillOpacity":0,"stroke":"#000","strokeWidth":3},"encoding":{"y":{"field":"med","type":"quantitative","title":"Distance from 5' SS (bps)"},"y2":{"field":"med"}}},
      {"mark":{"type":"text","fontSize":13.5,"color":"#000","baseline":"alphabetic"},"encoding":{"text":{"field":"n"},"y":{"datum":152.6}}}
     ]}
   ]}
 ],"spacing":40}
],"spacing":23},
{"hconcat":[
 {"title":{"text":"D","offset":21},"width":274,"height":254,"view":{"stroke":"#777"},
  "layer":[
   {"data":{"name":"D"},"mark":{"type":"circle","size":8,"color":"#000","opacity":1},
    "encoding":{"x":{"field":"x","type":"quantitative","title":"Observed ΔΨ","scale":{"domain":[-95.5,64.3],"nice":false,"zero":false},"axis":{"values":[-50,0,50],"labelFontSize":12,"tickSize":4,"labelPadding":4,"titleFontSize":16,"titlePadding":5}},
     "y":{"field":"y","type":"quantitative","title":"Predicted ΔΨ","scale":{"domain":[-92.4,15.1],"nice":false,"zero":false},"axis":{"values":[-80,-60,-40,-20,0],"labelAngle":-90,"labelFontSize":12,"tickSize":4,"labelPadding":4,"titleFontSize":16,"titlePadding":8}}}},
   {"data":{"name":"Dline"},"mark":{"type":"line","color":"#A9D6E8","strokeDash":[5,4],"strokeWidth":1.3},
    "encoding":{"x":{"field":"x","type":"quantitative","title":"Observed ΔΨ"},"y":{"field":"y","type":"quantitative","title":"Predicted ΔΨ"}}}
  ]},
 {"hconcat":[
  {"title":{"text":"E","offset":5},"width":143,"height":256,"view":{"stroke":"#333"},"resolve":{"scale":{"x":"independent"}},
   "layer":[
    {"layer":[
     {"data":{"name":"EY"},"mark":{"type":"circle","size":40,"color":"#87C5EE","opacity":1},
      "encoding":{"x":{"field":"x","type":"quantitative","scale":{"domain":[0.5,2.5],"nice":false,"zero":false},"axis":null},
       "y":{"field":"y","type":"quantitative","title":"Distance from 3' SS (bps)","scale":{"domain":[-4.6,120],"nice":false,"zero":false},"axis":{"values":[0,20,40,60,80,100],"labelAngle":-90,"labelFontSize":13,"tickSize":10,"labelPadding":10,"titleFontSize":13,"titlePadding":16}}}},
     {"data":{"name":"EN"},"mark":{"type":"circle","size":40,"color":"#A9A9A9","opacity":1},
      "encoding":{"x":{"field":"x","type":"quantitative","scale":{"domain":[0.5,2.5],"nice":false,"zero":false},"axis":null},
       "y":{"field":"y","type":"quantitative","title":"Distance from 3' SS (bps)"}}}
    ]},
    {"data":{"name":"Ebox"},
     "encoding":{"x":{"field":"g","type":"nominal","sort":["Yes","No"],"scale":{"domain":["Yes","No"],"paddingInner":0.24,"paddingOuter":0.12},"axis":{"title":"Agree with experiment","labelAngle":0,"tickSize":8,"labelPadding":8,"labelFontSize":13.5,"titleFontSize":13,"titlePadding":22}}},
     "layer":[
      {"mark":{"type":"rule","color":"#000","strokeDash":[5,3]},"encoding":{"y":{"field":"q3","type":"quantitative","title":"Distance from 3' SS (bps)"},"y2":{"field":"hi"}}},
      {"mark":{"type":"rule","color":"#000","strokeDash":[5,3]},"encoding":{"y":{"field":"lo","type":"quantitative","title":"Distance from 3' SS (bps)"},"y2":{"field":"q1"}}},
      {"mark":{"type":"bar","width":{"band":0.53},"fillOpacity":0,"stroke":"#000","strokeWidth":1},"encoding":{"y":{"field":"hi","type":"quantitative","title":"Distance from 3' SS (bps)"},"y2":{"field":"hi"}}},
      {"mark":{"type":"bar","width":{"band":0.53},"fillOpacity":0,"stroke":"#000","strokeWidth":1},"encoding":{"y":{"field":"lo","type":"quantitative","title":"Distance from 3' SS (bps)"},"y2":{"field":"lo"}}},
      {"mark":{"type":"bar","fillOpacity":0,"stroke":"#222","strokeWidth":1},"encoding":{"y":{"field":"q1","type":"quantitative","title":"Distance from 3' SS (bps)"},"y2":{"field":"q3"}}},
      {"mark":{"type":"bar","fillOpacity":0,"stroke":"#000","strokeWidth":3},"encoding":{"y":{"field":"med","type":"quantitative","title":"Distance from 3' SS (bps)"},"y2":{"field":"med"}}},
      {"mark":{"type":"text","fontSize":13.5,"color":"#000","baseline":"alphabetic"},"encoding":{"text":{"field":"n"},"y":{"datum":121.4}}}
     ]}
   ]},
  {"title":{"text":"F","offset":5},"width":143,"height":256,"view":{"stroke":"#333"},"resolve":{"scale":{"x":"independent"}},
   "layer":[
    {"layer":[
     {"data":{"name":"FY"},"mark":{"type":"circle","size":40,"color":"#EE6363","opacity":1},
      "encoding":{"x":{"field":"x","type":"quantitative","scale":{"domain":[0.5,2.5],"nice":false,"zero":false},"axis":null},
       "y":{"field":"y","type":"quantitative","title":"Distance from 5' SS (bps)","scale":{"domain":[-5.8,150.8],"nice":false,"zero":false},"axis":{"values":[0,50,100,150],"labelAngle":-90,"labelFontSize":13,"tickSize":10,"labelPadding":10,"titleFontSize":13,"titlePadding":16}}}},
     {"data":{"name":"FN"},"mark":{"type":"circle","size":40,"color":"#A9A9A9","opacity":1},
      "encoding":{"x":{"field":"x","type":"quantitative","scale":{"domain":[0.5,2.5],"nice":false,"zero":false},"axis":null},
       "y":{"field":"y","type":"quantitative","title":"Distance from 5' SS (bps)"}}}
    ]},
    {"data":{"name":"Fbox"},
     "encoding":{"x":{"field":"g","type":"nominal","sort":["Yes","No"],"scale":{"domain":["Yes","No"],"paddingInner":0.24,"paddingOuter":0.12},"axis":{"title":"Agree with experiment","labelAngle":0,"tickSize":8,"labelPadding":8,"labelFontSize":13.5,"titleFontSize":13,"titlePadding":22}}},
     "layer":[
      {"mark":{"type":"rule","color":"#000","strokeDash":[5,3]},"encoding":{"y":{"field":"q3","type":"quantitative","title":"Distance from 5' SS (bps)"},"y2":{"field":"hi"}}},
      {"mark":{"type":"rule","color":"#000","strokeDash":[5,3]},"encoding":{"y":{"field":"lo","type":"quantitative","title":"Distance from 5' SS (bps)"},"y2":{"field":"q1"}}},
      {"mark":{"type":"bar","width":{"band":0.53},"fillOpacity":0,"stroke":"#000","strokeWidth":1},"encoding":{"y":{"field":"hi","type":"quantitative","title":"Distance from 5' SS (bps)"},"y2":{"field":"hi"}}},
      {"mark":{"type":"bar","width":{"band":0.53},"fillOpacity":0,"stroke":"#000","strokeWidth":1},"encoding":{"y":{"field":"lo","type":"quantitative","title":"Distance from 5' SS (bps)"},"y2":{"field":"lo"}}},
      {"mark":{"type":"bar","fillOpacity":0,"stroke":"#222","strokeWidth":1},"encoding":{"y":{"field":"q1","type":"quantitative","title":"Distance from 5' SS (bps)"},"y2":{"field":"q3"}}},
      {"mark":{"type":"bar","fillOpacity":0,"stroke":"#000","strokeWidth":3},"encoding":{"y":{"field":"med","type":"quantitative","title":"Distance from 5' SS (bps)"},"y2":{"field":"med"}}},
      {"mark":{"type":"text","fontSize":13.5,"color":"#000","baseline":"alphabetic"},"encoding":{"text":{"field":"n"},"y":{"datum":152.6}}}
     ]}
   ]}
 ],"spacing":40}
],"spacing":23}
],
"spacing":35
}
